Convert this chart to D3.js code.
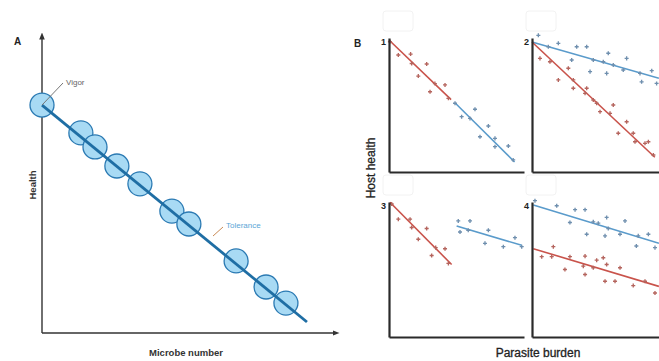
<!DOCTYPE html>
<html>
<head>
<meta charset="utf-8">
<script src="https://cdn.jsdelivr.net/npm/d3@7"></script>
<style>
  body { margin: 0; background: #fff; }
  svg { font-family: "Liberation Sans", Arial, sans-serif; }
</style>
</head>
<body>
<svg id="drawing_region"></svg>
<script>
// ---- panel A data (microbe number vs health) ----
const microbeX = [0, 13.5, 18.4, 26.0, 34.0, 45.1, 51.0, 67.4, 77.8, 84.7];
const healthY  = [77.8, 68.3, 63.5, 57.0, 50.9, 41.6, 37.2, 24.6, 15.7, 10.2];
const toleranceLine = [[0, 77.8], [92, 3.75]];

// ---- panel B data (parasite burden vs host health), 4 small panels ----
const p1Red = [[0.07,9.72],[0.69,8.73],[1.6,8.8],[1.68,8.1],[2.17,7.16],[2.79,8.06],[3.04,5.99],[3.4,6.6],[4.15,6.5],[4.4,5.5]];
const p1Blue = [[4.89,5.13],[5.38,4.13],[6.37,4.68],[6.0,4.0],[7.36,3.43],[6.74,2.63],[7.85,2.51],[8.84,1.94],[7.85,1.89],[9.2,0.9]];
const p1RedLine = [[0,9.85],[4.6,5.4]];
const p1BlueLine = [[4.9,5.15],[9.3,0.75]];

const p2Blue = [[0.47,10.2],[1.21,9.35],[1.95,9.6],[3.31,9.35],[4.05,9.35],[2.94,8.36],[4.54,8.36],[4.3,7.49],[5.65,8.86],[5.28,8.23],[6.02,7.99],[5.53,7.36],[7.01,8.48],[6.76,7.61],[8.0,7.36],[8.87,7.56],[8.12,6.73],[9.23,6.61]];
const p2Red = [[0.59,8.48],[1.33,8.23],[1.95,6.87],[2.69,7.74],[3.06,6.87],[3.06,6.25],[4.05,6.25],[3.93,5.87],[4.54,5.37],[5.04,4.5],[4.79,5.13],[6.02,5.0],[5.78,4.38],[7.01,3.75],[6.39,2.89],[7.5,2.89],[7.63,2.26],[8.37,2.14],[8.62,2.26],[8.99,1.27]];
const p2BlueLine = [[0,9.7],[9.4,7.0]];
const p2RedLine = [[0,9.7],[9.1,1.1]];

const p3Red = [[0.2,9.85],[0.69,8.73],[1.56,8.73],[1.68,8.11],[2.17,7.24],[2.79,8.04],[3.16,6.04],[3.46,6.62],[4.15,6.54],[4.4,5.45]];
const p3Blue = [[5.13,8.6],[6.0,8.6],[5.26,7.78],[5.87,7.91],[7.36,7.91],[7.11,6.94],[8.47,6.69],[9.33,7.36],[9.83,6.69]];
const p3RedLine = [[0.07,9.98],[4.64,5.37]];
const p3BlueLine = [[5.01,8.23],[9.83,6.79]];

const p4Blue = [[0.22,10.1],[1.83,9.72],[3.19,9.43],[3.93,9.43],[2.81,8.48],[4.54,8.53],[4.91,8.43],[5.53,8.86],[4.05,7.61],[5.41,7.49],[5.65,8.04],[6.52,7.61],[6.89,8.6],[7.87,7.49],[8.62,7.61],[7.73,6.74],[9.11,6.62]];
const p4Red = [[0.72,5.95],[1.46,5.95],[1.58,6.69],[2.81,5.95],[3.93,5.99],[4.79,5.69],[5.28,5.87],[2.44,5.0],[3.93,4.63],[3.8,5.25],[4.54,5.13],[5.53,5.37],[6.52,5.13],[5.41,4.13],[6.15,4.13],[7.5,3.81],[8.37,4.13],[9.11,3.26]];
const p4BlueLine = [[0.1,9.78],[9.4,6.94]];
const p4RedLine = [[0.1,6.54],[9.4,3.75]];

const panelLabels = ["1", "2", "3", "4"];

const svg = d3.select("#drawing_region").attr("width", 659).attr("height", 361);

svg.append("defs").append("marker")
  .attr("id", "arrow")
  .attr("viewBox", "0 0 10 10")
  .attr("refX", 5).attr("refY", 5)
  .attr("markerWidth", 5).attr("markerHeight", 5)
  .attr("orient", "auto")
  .append("path").attr("d", "M0,1 L10,5 L0,9 Z").attr("fill", "#333");

// ================= Panel A =================
const A = {left: 42, top: 40, width: 288, height: 293};
const xA = d3.scaleLinear().domain([0, 100]).range([A.left, A.left + A.width]);
const yA = d3.scaleLinear().domain([0, 100]).range([A.top + A.height, A.top]);

const gA = svg.append("g");
gA.append("line")
  .attr("x1", xA(0)).attr("y1", yA(0)).attr("x2", xA(0)).attr("y2", 36)
  .attr("stroke", "#333").attr("stroke-width", 1.4).attr("marker-end", "url(#arrow)");
gA.append("line")
  .attr("x1", xA(0)).attr("y1", yA(0)).attr("x2", 336).attr("y2", yA(0))
  .attr("stroke", "#333").attr("stroke-width", 1.4).attr("marker-end", "url(#arrow)");

gA.selectAll("circle.host")
  .data(microbeX.map((x, i) => ({x: x, y: healthY[i]})))
  .enter().append("circle")
  .attr("class", "host")
  .attr("cx", d => xA(d.x)).attr("cy", d => yA(d.y)).attr("r", 12)
  .attr("fill", "#a8daf4").attr("stroke", "#2b7ab3").attr("stroke-width", 1.3);

gA.append("path")
  .datum(toleranceLine)
  .attr("d", d3.line().x(d => xA(d[0])).y(d => yA(d[1])))
  .attr("stroke", "#1f6ea4").attr("stroke-width", 2.8).attr("fill", "none");

// leader lines + annotations
gA.append("line").attr("x1", xA(0)).attr("y1", yA(77.8)).attr("x2", 63).attr("y2", 83)
  .attr("stroke", "#777").attr("stroke-width", 1);
gA.append("text").attr("x", 66).attr("y", 85).text("Vigor")
  .attr("font-size", 8).attr("fill", "#666");
gA.append("line").attr("x1", 213).attr("y1", 236).attr("x2", 223).attr("y2", 227)
  .attr("stroke", "#c98a55").attr("stroke-width", 1);
gA.append("text").attr("x", 226).attr("y", 228).text("Tolerance")
  .attr("font-size", 8).attr("fill", "#5ba6d6");

svg.append("text").attr("x", 14).attr("y", 45).text("A")
  .attr("font-size", 10).attr("font-weight", "bold").attr("fill", "#222");
svg.append("text").attr("transform", `translate(36, 185) rotate(-90)`)
  .attr("text-anchor", "middle").text("Health")
  .attr("font-size", 9.5).attr("font-weight", "bold").attr("fill", "#333");
svg.append("text").attr("x", 186).attr("y", 356).attr("text-anchor", "middle")
  .text("Microbe number").attr("font-size", 9.5).attr("font-weight", "bold").attr("fill", "#333");

// ================= Panel B =================
const RED = "#c9534b", BLUE = "#5a9bcb";
const RED_PT = "#b5655e", BLUE_PT = "#6f8fae";

const panels = [
  {x: 389, y: 38, w: 135, h: 134, pts: [[p1Red, RED_PT], [p1Blue, BLUE_PT]], lines: [[p1RedLine, RED], [p1BlueLine, BLUE]]},
  {x: 532, y: 38, w: 135, h: 134, pts: [[p2Blue, BLUE_PT], [p2Red, RED_PT]], lines: [[p2BlueLine, BLUE], [p2RedLine, RED]]},
  {x: 389, y: 202, w: 135, h: 135, pts: [[p3Red, RED_PT], [p3Blue, BLUE_PT]], lines: [[p3RedLine, RED], [p3BlueLine, BLUE]]},
  {x: 532, y: 202, w: 135, h: 135, pts: [[p4Blue, BLUE_PT], [p4Red, RED_PT]], lines: [[p4BlueLine, BLUE], [p4RedLine, RED]]}
];

const marker = d3.symbol().type(d3.symbolCross).size(9);

panels.forEach((p, i) => {
  const g = svg.append("g").attr("transform", `translate(${p.x}, ${p.y})`);
  const xs = d3.scaleLinear().domain([0, 10]).range([0, p.w]);
  const ys = d3.scaleLinear().domain([0, 10]).range([p.h, 0]);

  // faint header box above each panel
  svg.append("rect").attr("x", p.x - 6).attr("y", p.y - 27).attr("width", 30).attr("height", 20)
    .attr("rx", 3).attr("fill", "none").attr("stroke", "#f2f2f2").attr("stroke-width", 1);

  p.lines.forEach(([ln, c]) => {
    g.append("path").datum(ln)
      .attr("d", d3.line().x(d => xs(d[0])).y(d => ys(d[1])))
      .attr("stroke", c).attr("stroke-width", 1.6).attr("fill", "none");
  });

  p.pts.forEach(([pts, c]) => {
    g.selectAll(null).data(pts).enter().append("path")
      .attr("d", marker)
      .attr("transform", d => `translate(${xs(d[0])}, ${ys(d[1])})`)
      .attr("fill", c);
  });

  g.append("g").attr("transform", `translate(0, ${p.h})`)
    .call(d3.axisBottom(xs).ticks(0).tickSizeOuter(0))
    .call(a => a.select(".domain").attr("stroke", "#2a2a2a").attr("stroke-width", 2.2));
  g.append("g")
    .call(d3.axisLeft(ys).ticks(0).tickSizeOuter(0))
    .call(a => a.select(".domain").attr("stroke", "#2a2a2a").attr("stroke-width", 2.2));

  g.append("text").attr("x", -3).attr("y", 7).attr("text-anchor", "end")
    .text(panelLabels[i]).attr("font-size", 9).attr("font-weight", "bold").attr("fill", "#222");
});

svg.append("text").attr("x", 354).attr("y", 47).text("B")
  .attr("font-size", 10).attr("font-weight", "bold").attr("fill", "#222");
svg.append("text").attr("transform", `translate(375, 168) rotate(-90)`)
  .attr("text-anchor", "middle").text("Host health")
  .attr("font-size", 12).attr("fill", "#222").attr("stroke", "#222").attr("stroke-width", 0.3);
svg.append("text").attr("x", 538).attr("y", 357).attr("text-anchor", "middle")
  .text("Parasite burden").attr("font-size", 12).attr("fill", "#222").attr("stroke", "#222").attr("stroke-width", 0.3);
</script>
</body>
</html>
